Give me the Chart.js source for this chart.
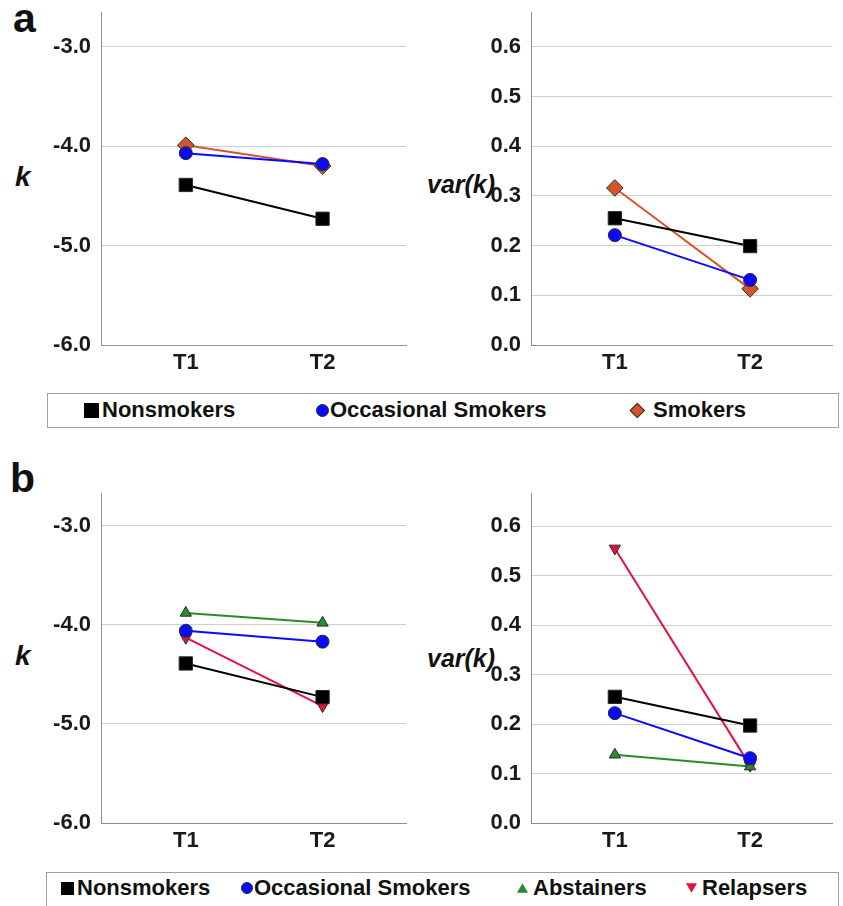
<!DOCTYPE html>
<html>
<head>
<meta charset="utf-8">
<title>k and var(k) at T1 and T2</title>
<script src="https://cdn.jsdelivr.net/npm/chart.js@4.4.1/dist/chart.umd.min.js"></script>
<style>
  html, body { margin: 0; padding: 0; background: #fff; }
  body { width: 843px; height: 906px; position: relative; overflow: hidden;
         font-family: 'Liberation Sans', Arial, sans-serif; color: #111; }
  .abs { position: absolute; line-height: 1; white-space: nowrap; }
  .panel-tag { font-weight: bold; font-size: 41px; }
  .axis-title { font-weight: bold; font-style: italic; }
  canvas { position: absolute; }
  .legend { position: absolute; border: 1px solid #a0a0a0; box-sizing: border-box; }
  .legend-text { position: absolute; font-weight: bold; font-size: 22px; line-height: 1; white-space: nowrap; }
  .mk { position: absolute; box-sizing: border-box; }
</style>
</head>
<body>

<div class="abs panel-tag" style="left:13px;top:-2px">a</div>
<div class="abs panel-tag" style="left:10px;top:458px">b</div>

<div class="abs axis-title" style="left:15px;top:163px;font-size:28px">k</div>
<div class="abs axis-title" style="left:427px;top:172px;font-size:25px">var(k)</div>
<div class="abs axis-title" style="left:15px;top:642px;font-size:28px">k</div>
<div class="abs axis-title" style="left:427px;top:646px;font-size:25px">var(k)</div>

<canvas id="chart-a-k" width="420" height="390" style="left:0;top:0"></canvas>
<canvas id="chart-a-var" width="423" height="390" style="left:420px;top:0"></canvas>
<canvas id="chart-b-k" width="420" height="390" style="left:0;top:478px"></canvas>
<canvas id="chart-b-var" width="423" height="390" style="left:420px;top:478px"></canvas>

<div id="legend-a" class="legend" style="left:47px;top:393px;width:792px;height:35px"></div>
<div id="legend-b" class="legend" style="left:46px;top:872px;width:793px;height:45px"></div>

<script>
'use strict';

// ── Data ──────────────────────────────────────────────────────────────
const timepoints = ['T1', 'T2'];
const groupsA = ['Nonsmokers', 'Occasional Smokers', 'Smokers'];
const groupsB = ['Nonsmokers', 'Occasional Smokers', 'Abstainers', 'Relapsers'];

// panel a: mean k
const kNonsmokersA = [-4.39, -4.73];
const kOccasionalA = [-4.07, -4.18];
const kSmokersA = [-3.99, -4.20];
// panel a: var(k)
const varNonsmokersA = [0.255, 0.199];
const varOccasionalA = [0.221, 0.131];
const varSmokersA = [0.316, 0.113];

// panel b: mean k
const kNonsmokersB = [-4.39, -4.73];
const kOccasionalB = [-4.06, -4.17];
const kAbstainersB = [-3.88, -3.98];
const kRelapsersB = [-4.13, -4.82];
// panel b: var(k)
const varNonsmokersB = [0.255, 0.197];
const varOccasionalB = [0.222, 0.131];
const varAbstainersB = [0.138, 0.114];
const varRelapsersB = [0.555, 0.116];

const kTicks = [-6, -5, -4, -3];
const varTicks = [0, 0.1, 0.2, 0.3, 0.4, 0.5, 0.6];

// ── Styles ────────────────────────────────────────────────────────────
const FONT = "'Liberation Sans', Arial, sans-serif";
const TICK_FONT = { family: FONT, size: 22, weight: 'bold' };
const TICK_COLOR = '#1a1a1a';
const GRID_COLOR = '#cfcfcf';
const AXIS_COLOR = '#8e8e8e';
const EDGE = '#2a2a2a';

const STYLE = {
  'Nonsmokers':         { line: '#000000', fill: '#000000', shape: 'rect',     radius: 9.4, rotation: 0 },
  'Occasional Smokers': { line: '#0a0aff', fill: '#0a0aff', shape: 'circle',   radius: 6.5, rotation: 0 },
  'Smokers':            { line: '#d4552c', fill: '#d4552c', shape: 'rectRot',  radius: 8.3, rotation: 0 },
  'Abstainers':         { line: '#2b8a2b', fill: '#2b8a2b', shape: 'triangle', radius: 6.5, rotation: 0 },
  'Relapsers':          { line: '#e3123e', fill: '#e3123e', shape: 'triangle', radius: 6.5, rotation: 180 },
};

// ── Chart builder ─────────────────────────────────────────────────────
function buildChart(canvasId, area, groups, series, yMin, yMax, yTicks) {
  const canvas = document.getElementById(canvasId);
  const cw = canvas.width, ch = canvas.height;

  const datasets = groups.map((g, i) => {
    const s = STYLE[g];
    return {
      label: g,
      data: series[i].map((v, j) => ({ x: j + 1, y: v })),
      borderColor: s.line,
      borderWidth: 2,
      pointStyle: s.shape,
      pointRadius: s.radius,
      pointRotation: s.rotation,
      pointBackgroundColor: s.fill,
      pointBorderColor: EDGE,
      pointBorderWidth: 1,
      tension: 0,
      clip: false,
    };
  });

  return new Chart(canvas, {
    type: 'line',
    data: { datasets },
    options: {
      responsive: false,
      animation: false,
      events: [],
      layout: { padding: { left: 0, top: area.top, right: cw - area.right, bottom: 0 } },
      plugins: { legend: { display: false }, tooltip: { enabled: false } },
      scales: {
        x: {
          type: 'linear', min: 0.38, max: 2.61,
          grid: { display: false, drawTicks: false },
          border: { color: AXIS_COLOR, width: 1 },
          afterBuildTicks: s => { s.ticks = timepoints.map((_, i) => ({ value: i + 1 })); },
          ticks: {
            padding: 5, font: TICK_FONT, color: TICK_COLOR,
            maxRotation: 0, autoSkip: false,
            callback: (v, i) => timepoints[i],
          },
          afterFit: s => { s.height = ch - area.bottom; s.paddingLeft = 0; s.paddingRight = 0; },
        },
        y: {
          type: 'linear', min: yMin, max: yMax,
          grid: { color: GRID_COLOR, lineWidth: 1, drawTicks: false },
          border: { color: AXIS_COLOR, width: 1 },
          afterBuildTicks: s => { s.ticks = yTicks.map(v => ({ value: v })); },
          ticks: {
            padding: 10, font: TICK_FONT, color: TICK_COLOR,
            callback: v => Number(v).toFixed(1),
          },
          afterFit: s => { s.width = area.left; s.paddingTop = 0; s.paddingBottom = 0; },
        },
      },
    },
  });
}

// ── Legend builder (HTML) ─────────────────────────────────────────────
function markerEl(name, size) {
  const s = STYLE[name];
  const el = document.createElement('div');
  el.className = 'mk';
  el.style.background = s.fill;
  if (s.shape === 'rect') {
    el.style.width = size + 'px'; el.style.height = size + 'px';
  } else if (s.shape === 'circle') {
    el.style.width = size + 'px'; el.style.height = size + 'px';
    el.style.borderRadius = '50%'; el.style.border = '1px solid ' + EDGE;
  } else if (s.shape === 'rectRot') {
    const side = size / Math.SQRT2;
    el.style.width = side + 'px'; el.style.height = side + 'px';
    el.style.border = '1px solid ' + EDGE;
    el.style.transform = 'rotate(45deg)';
    el.style.marginLeft = ((size - side) / 2) + 'px';
    el.dataset.h = side;
  } else {
    el.style.width = size + 'px'; el.style.height = (size * 0.87) + 'px';
    el.style.clipPath = s.rotation ? 'polygon(0 0, 100% 0, 50% 100%)' : 'polygon(50% 0, 100% 100%, 0 100%)';
  }
  return el;
}

function buildLegend(id, groups, items, cy) {
  const box = document.getElementById(id);
  const bx = parseFloat(box.style.left), by = parseFloat(box.style.top);
  groups.forEach((g, i) => {
    const [mx, size, tx] = items[i];
    const m = markerEl(g, size);
    const h = m.dataset.h ? parseFloat(m.dataset.h) : parseFloat(m.style.height);
    m.style.left = (mx - bx - 1) + 'px';
    m.style.top = (cy - by - 1 - h / 2) + 'px';
    box.appendChild(m);
    const t = document.createElement('span');
    t.className = 'legend-text';
    t.textContent = g;
    t.style.left = (tx - bx - 1) + 'px';
    t.style.top = (cy - by - 1 - 10.7) + 'px';
    box.appendChild(t);
  });
}

// ── Render ────────────────────────────────────────────────────────────
buildChart('chart-a-k', { left: 101, top: 12, right: 406, bottom: 345 },
  groupsA, [kNonsmokersA, kOccasionalA, kSmokersA], -6, -2.65, kTicks);
buildChart('chart-a-var', { left: 111, top: 12, right: 421, bottom: 345 },
  groupsA, [varNonsmokersA, varOccasionalA, varSmokersA], 0, 0.67, varTicks);
buildChart('chart-b-k', { left: 101, top: 15, right: 406, bottom: 345 },
  groupsB, [kNonsmokersB, kOccasionalB, kAbstainersB, kRelapsersB], -6, -2.67, kTicks);
buildChart('chart-b-var', { left: 111, top: 15, right: 421, bottom: 345 },
  groupsB, [varNonsmokersB, varOccasionalB, varAbstainersB, varRelapsersB], 0, 0.667, varTicks);

buildLegend('legend-a', groupsA, [[84, 15, 102], [316, 13, 330], [630, 15, 653]], 410);
buildLegend('legend-b', groupsB, [[61, 13, 77], [241, 12, 254], [517, 11, 533], [686, 11, 702]], 888);
</script>
</body>
</html>
